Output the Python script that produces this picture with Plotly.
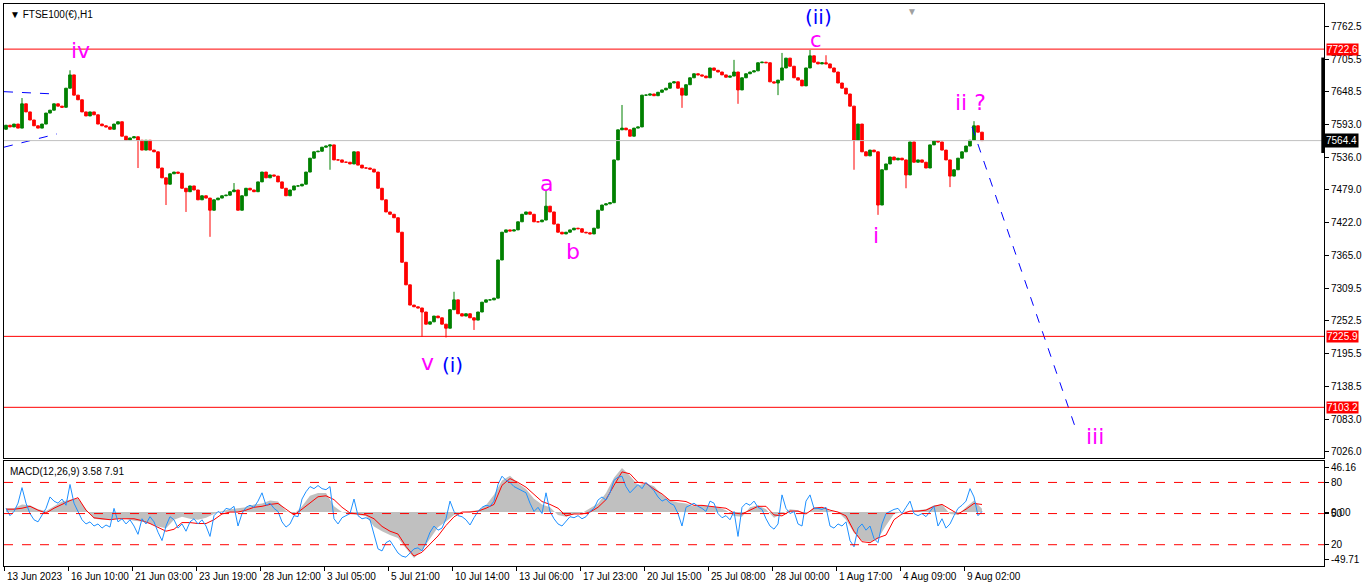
import plotly.graph_objects as go

# FTSE100(€) H1, 13 Jun - 9 Aug 2023, one candle per 4 hourly bars
closes = [
    7591, 7588, 7593, 7586, 7628, 7614, 7600, 7590, 7586, 7593,
    7612, 7617, 7628, 7624, 7622, 7655, 7678, 7643, 7635, 7614,
    7607, 7614, 7609, 7593, 7590, 7588, 7584, 7593, 7597, 7572,
    7565, 7569, 7571, 7565, 7548, 7565, 7548, 7545, 7517, 7500,
    7489, 7507, 7510, 7508, 7482, 7476, 7486, 7479, 7462, 7469,
    7465, 7444, 7462, 7465, 7469, 7470, 7476, 7479, 7444, 7469,
    7482, 7479, 7476, 7493, 7510, 7500, 7505, 7503, 7493, 7482,
    7469, 7479, 7486, 7486, 7489, 7510, 7534, 7545, 7546, 7553,
    7555, 7557, 7531, 7531, 7527, 7527, 7524, 7545, 7522, 7517,
    7517, 7515, 7510, 7482, 7462, 7441, 7437, 7431, 7406, 7354,
    7315, 7280, 7277, 7275, 7268, 7247, 7251, 7261, 7258, 7247,
    7240, 7272, 7289, 7265, 7261, 7265, 7258, 7254, 7268, 7285,
    7289, 7289, 7292, 7358, 7406, 7410, 7408, 7410, 7424, 7437,
    7441, 7437, 7424, 7424, 7427, 7451, 7441, 7420, 7406, 7403,
    7406, 7410, 7413, 7412, 7406, 7405, 7403, 7413, 7444, 7453,
    7455, 7457, 7531, 7583, 7586, 7583, 7572, 7586, 7588, 7643,
    7643, 7645, 7642, 7648, 7652, 7655, 7664, 7666, 7655, 7643,
    7661, 7673, 7680, 7678, 7676, 7673, 7690, 7686, 7683, 7678,
    7674, 7676, 7683, 7652, 7673, 7680, 7683, 7685, 7699, 7700,
    7699, 7666, 7664, 7669, 7690, 7707, 7693, 7673, 7669, 7659,
    7690, 7711, 7700, 7697, 7699, 7697, 7690, 7683, 7664, 7655,
    7645, 7624, 7565, 7593, 7545, 7538, 7548, 7545, 7453, 7514,
    7524, 7536, 7531, 7534, 7531, 7505, 7562, 7527, 7531, 7527,
    7517, 7557, 7564, 7562, 7548, 7531, 7503, 7514, 7534, 7545,
    7555, 7565, 7590, 7579, 7564.4,
]
first_open = 7584
# long wicks that stick out past the bodies
high_wicks = {4: 7638, 16: 7686, 57: 7491, 112: 7303, 135: 7479, 154: 7626,
              182: 7704, 194: 7716, 201: 7721, 205: 7712, 242: 7598}
low_wicks = {33: 7517, 40: 7453, 45: 7441, 51: 7398, 81: 7514, 104: 7225,
             110: 7224, 117: 7237, 169: 7621, 183: 7628, 193: 7643, 212: 7514,
             218: 7436, 225: 7482, 236: 7484}

# MACD(12,26,9): main (grey histogram) and signal (red), one value every 2 candles
macd_main = [
    4, 4, 8, 7, 3, 1, 6, 11, 13, 14,
    3, -7, -8, -8, -7, -7, -9, -10, -12, -15,
    -17, -8, -5, -7, -8, -6, -2, 1, 3, 4,
    5, 8, 9, 12, 11, 1, -2, 6, 17, 20,
    20, 6, 0, -2, -3, -4, -15, -20, -24, -27,
    -38, -48, -40, -28, -16, -10, -3, 0, 1, 2,
    7, 18, 33, 38, 30, 24, 14, 8, 5, -3,
    -5, -2, -1, 4, 9, 20, 36, 46, 38, 28,
    30, 27, 18, 12, 10, 9, 6, 7, 6, 5,
    2, -4, -5, 5, 7, 3, -6, -2, 3, 2,
    -2, 5, 5, 1, 0, -8, -22, -30, -31, -28,
    -14, -2, 0, 1, 2, 3, 7, 8, -2, -3,
    5, 12, 3.58,
]
macd_signal = [
    3, 3, 4, 6, 2, -1, 4, 8, 12, 15,
    2, -6, -7, -8, -7, -7, -7, -9, -12, -16,
    -20, -18, -11, -11, -12, -12, -8, -2, 0, 0,
    2, 5, 6, 8, 9, 3, -3, 3, 10, 16,
    17, 13, 5, -1, -2, -3, -7, -15, -20, -23,
    -36, -46, -42, -34, -25, -14, -5, 0, 0, 1,
    4, 8, 28, 35, 31, 26, 19, 11, 8, 4,
    -4, -2, -2, 0, 5, 13, 28, 42, 40, 31,
    30, 24, 19, 12, 12, 11, 7, 7, 6, 5,
    4, -1, -2, 2, 6, 6, -3, -4, 1, 1,
    -2, 4, 5, 2, 0, -4, -20, -31, -32, -27,
    -24, -8, -2, 1, 1, 2, 6, 8, 3, -2,
    3, 9, 7.91,
]
# blue oscillator in the same window (0-100 scale, levels 80/50/20)
osc = [
    55, 48, 52, 60, 75, 60, 50, 44, 42, 48,
    55, 66, 62, 60, 64, 58, 78, 60, 52, 44,
    40, 42, 38, 40, 36, 39, 37, 55, 42, 45,
    40, 44, 38, 30, 45, 40, 47, 42, 32, 24,
    38, 47, 44, 36, 40, 33, 42, 45, 40, 44,
    38, 28, 48, 52, 50, 55, 54, 57, 38, 50,
    56, 58, 56, 62, 70, 58, 60, 55, 52, 42,
    37, 40, 48, 47, 64, 71, 76, 74, 77, 74,
    73, 76, 45, 40, 46, 48, 50, 64, 48, 45,
    46, 44, 30, 16, 14, 22, 24, 18, 12, 9,
    8, 12, 16, 17, 14, 22, 32, 38, 34, 36,
    45, 62, 52, 48, 47, 44, 39, 46, 52, 56,
    58, 57, 62, 78, 86, 82, 80, 76, 74, 72,
    70, 60, 52, 56, 50, 70, 52, 45, 40, 38,
    42, 47, 46, 48, 45, 47, 52, 55, 63, 66,
    63, 70, 82, 85, 86, 76, 70, 74, 78, 74,
    80, 76, 72, 66, 62, 64, 60, 58, 50, 38,
    56, 58, 60, 57, 55, 52, 62, 60, 50, 46,
    48, 44, 52, 28, 56, 60, 58, 62, 56, 54,
    45, 38, 35, 40, 68, 55, 50, 52, 40, 38,
    62, 68, 55, 55, 54, 56, 38, 36, 40, 38,
    42, 24, 18, 36, 40, 34, 38, 26, 22, 40,
    50, 52, 54, 55, 50, 56, 62, 50, 48, 50,
    47, 52, 57, 38, 45, 36, 40, 48, 55, 58,
    62, 74, 66, 48, 52,
]
osc_levels = [80, 50, 20]

date_labels = ["13 Jun 2023", "16 Jun 10:00", "21 Jun 03:00", "23 Jun 19:00",
               "28 Jun 12:00", "3 Jul 05:00", "5 Jul 21:00", "10 Jul 14:00",
               "13 Jul 06:00", "17 Jul 23:00", "20 Jul 15:00", "25 Jul 08:00",
               "28 Jul 00:00", "1 Aug 17:00", "4 Aug 09:00", "9 Aug 02:00"]
bars_per_label = 16

price_ticks = [7762.5, 7705.5, 7648.5, 7593.0, 7536.0, 7479.0, 7422.0,
               7365.0, 7309.5, 7252.5, 7195.5, 7138.5, 7083.0, 7026.0]
levels = [7722.6, 7225.9, 7103.2]
last_price = 7564.4

# drawn objects: wave projection and early channel
proj_x = [241.5, 267.75]
proj_y = [7588, 7060]
chan_top_x = [-0.5, 12.25]
chan_top_y = [7649, 7645]
chan_bot_x = [-0.5, 12.75]
chan_bot_y = [7553, 7576]

# Elliott wave labels (text, bar, price, colour)
MAG = "#FF00FF"
BLU = "#0000FF"
wave_labels = [
    ("iv", 18.5, 7721, MAG, 22),
    ("(ii)", 203, 7778, BLU, 20),
    ("c", 202.5, 7739, MAG, 21),
    ("ii ?", 241, 7631, MAG, 22),
    ("a", 135, 7491, MAG, 22),
    ("b", 141.75, 7372, MAG, 22),
    ("i", 217.5, 7401, MAG, 22),
    ("v", 105.25, 7180, MAG, 22),
    ("(i)", 111.5, 7177, BLU, 20),
    ("iii", 272.25, 7052, MAG, 22),
]

n = len(closes)
bars = list(range(n))
opens = [first_open] + closes[:-1]
highs = [high_wicks.get(i, max(opens[i], closes[i])) for i in bars]
lows = [low_wicks.get(i, min(opens[i], closes[i])) for i in bars]
macd_x = [2 * k for k in range(len(macd_main))]

X_RANGE = [-0.5, 329.5]
FONT = "Liberation Sans"

fig = go.Figure()

fig.add_trace(go.Candlestick(
    x=bars, open=opens, high=highs, low=lows, close=closes,
    increasing=dict(line=dict(color="#008000", width=1), fillcolor="#008000"),
    decreasing=dict(line=dict(color="#FF0000", width=1), fillcolor="#FF0000"),
    whiskerwidth=0, xaxis="x", yaxis="y", hoverinfo="skip",
))

for xs, ys in [(chan_top_x, chan_top_y), (chan_bot_x, chan_bot_y), (proj_x, proj_y)]:
    fig.add_trace(go.Scatter(x=xs, y=ys, mode="lines",
                             line=dict(color=BLU, width=1, dash="dash"),
                             xaxis="x", yaxis="y", hoverinfo="skip"))

# MACD window
fig.add_trace(go.Scatter(x=macd_x, y=macd_main, mode="lines", fill="tozeroy",
                         fillcolor="#C0C0C0", line=dict(color="#C0C0C0", width=0),
                         xaxis="x2", yaxis="y2", hoverinfo="skip"))
fig.add_trace(go.Scatter(x=macd_x, y=macd_signal, mode="lines",
                         line=dict(color="#FF0000", width=1),
                         xaxis="x2", yaxis="y2", hoverinfo="skip"))
fig.add_trace(go.Scatter(x=bars, y=osc, mode="lines",
                         line=dict(color="#1E90FF", width=1),
                         xaxis="x2", yaxis="y3", hoverinfo="skip"))

shapes = []
for lv in levels:
    shapes.append(dict(type="line", xref="paper", x0=0, x1=1, yref="y", y0=lv, y1=lv,
                       line=dict(color="#FF0000", width=1)))
shapes.append(dict(type="line", xref="paper", x0=0, x1=1, yref="y",
                   y0=last_price, y1=last_price, line=dict(color="#C0C0C0", width=1)))
for lv in osc_levels:
    shapes.append(dict(type="line", xref="paper", x0=0, x1=1, yref="y3", y0=lv, y1=lv,
                       line=dict(color="#FF0000", width=1, dash="dash")))
shapes.append(dict(type="line", xref="paper", x0=0.9991, x1=0.9991, yref="y",
                   y0=7543, y1=7708, line=dict(color="black", width=3)))

annotations = []
for text, bx, py, col, size in wave_labels:
    annotations.append(dict(x=bx, y=py, xref="x", yref="y", text=text, showarrow=False,
                            font=dict(family="DejaVu Sans", size=size, color=col)))
for lv in levels:
    annotations.append(dict(x=1, y=lv, xref="paper", yref="y", text=f"{lv:.1f}",
                            showarrow=False, xanchor="left", xshift=2, bgcolor="#FF0000",
                            borderpad=0, font=dict(family=FONT, size=10, color="white")))
annotations.append(dict(x=1, y=last_price, xref="paper", yref="y", text=f"{last_price:.1f}",
                        showarrow=False, xanchor="left", xshift=0, bgcolor="black",
                        borderpad=1, font=dict(family=FONT, size=10, color="white")))
for k, lab in enumerate(date_labels):
    annotations.append(dict(x=k * bars_per_label - 0.5, y=0, xref="x2", yref="paper",
                            text=lab, showarrow=False, xanchor="left", yanchor="top",
                            xshift=1, yshift=-3,
                            font=dict(family=FONT, size=10, color="black")))
annotations.append(dict(x=0, y=1, xref="paper", yref="paper", text="▼ FTSE100(€),H1",
                        showarrow=False, xanchor="left", yanchor="top", xshift=4, yshift=-3,
                        font=dict(family=FONT, size=10, color="black")))
annotations.append(dict(x=0, y=0.1877, xref="paper", yref="paper",
                        text=f"MACD(12,26,9) {macd_main[-1]:.2f} {macd_signal[-1]:.2f}",
                        showarrow=False, xanchor="left", yanchor="top", xshift=4, yshift=-3,
                        font=dict(family=FONT, size=10, color="black")))
annotations.append(dict(x=226.5, y=1, xref="x", yref="paper", text="▼", showarrow=False,
                        yanchor="top", yshift=2, font=dict(size=10, color="#A0A0A0")))

axis_common = dict(showgrid=False, zeroline=False, showline=True, linecolor="black",
                   linewidth=1, mirror=True)

fig.update_layout(
    width=1366, height=588,
    margin=dict(l=4, r=42, t=4, b=22),
    paper_bgcolor="white", plot_bgcolor="white",
    showlegend=False, boxgap=0.05,
    shapes=shapes, annotations=annotations,
    xaxis=dict(domain=[0, 1], range=X_RANGE, anchor="y", showticklabels=False,
               rangeslider=dict(visible=False), ticks="", **axis_common),
    yaxis=dict(domain=[0.1922, 1], range=[7015.6, 7800.6], side="right", anchor="x",
               tickvals=price_ticks, ticktext=[f"{p:.1f}" for p in price_ticks],
               ticks="outside", ticklen=4, tickcolor="black",
               tickfont=dict(family=FONT, size=10, color="black"), **axis_common),
    xaxis2=dict(domain=[0, 1], range=X_RANGE, anchor="y2",
                tickvals=[k * bars_per_label - 0.5 for k in range(len(date_labels))],
                showticklabels=False, ticks="outside", ticklen=4, tickcolor="black",
                **axis_common),
    yaxis2=dict(domain=[0, 0.1877], range=[-56.4, 53.9], side="right", anchor="x2",
                tickvals=[46.16, 0, -49.71], ticktext=["46.16", "0.00", "-49.71"],
                ticks="outside", ticklen=4, tickcolor="black",
                tickfont=dict(family=FONT, size=10, color="black"), **axis_common),
    yaxis3=dict(range=[-0.5, 101.1], overlaying="y2", side="right", anchor="x2",
                tickvals=osc_levels, ticktext=[str(v) for v in osc_levels],
                ticks="outside", ticklen=4, tickcolor="black", showgrid=False,
                zeroline=False, tickfont=dict(family=FONT, size=10, color="black")),
)

# the page's default body margin would push the chart off by 8px
fig.write_html("out.html", config={"displayModeBar": False},
               post_script="document.body.style.margin='0';")
